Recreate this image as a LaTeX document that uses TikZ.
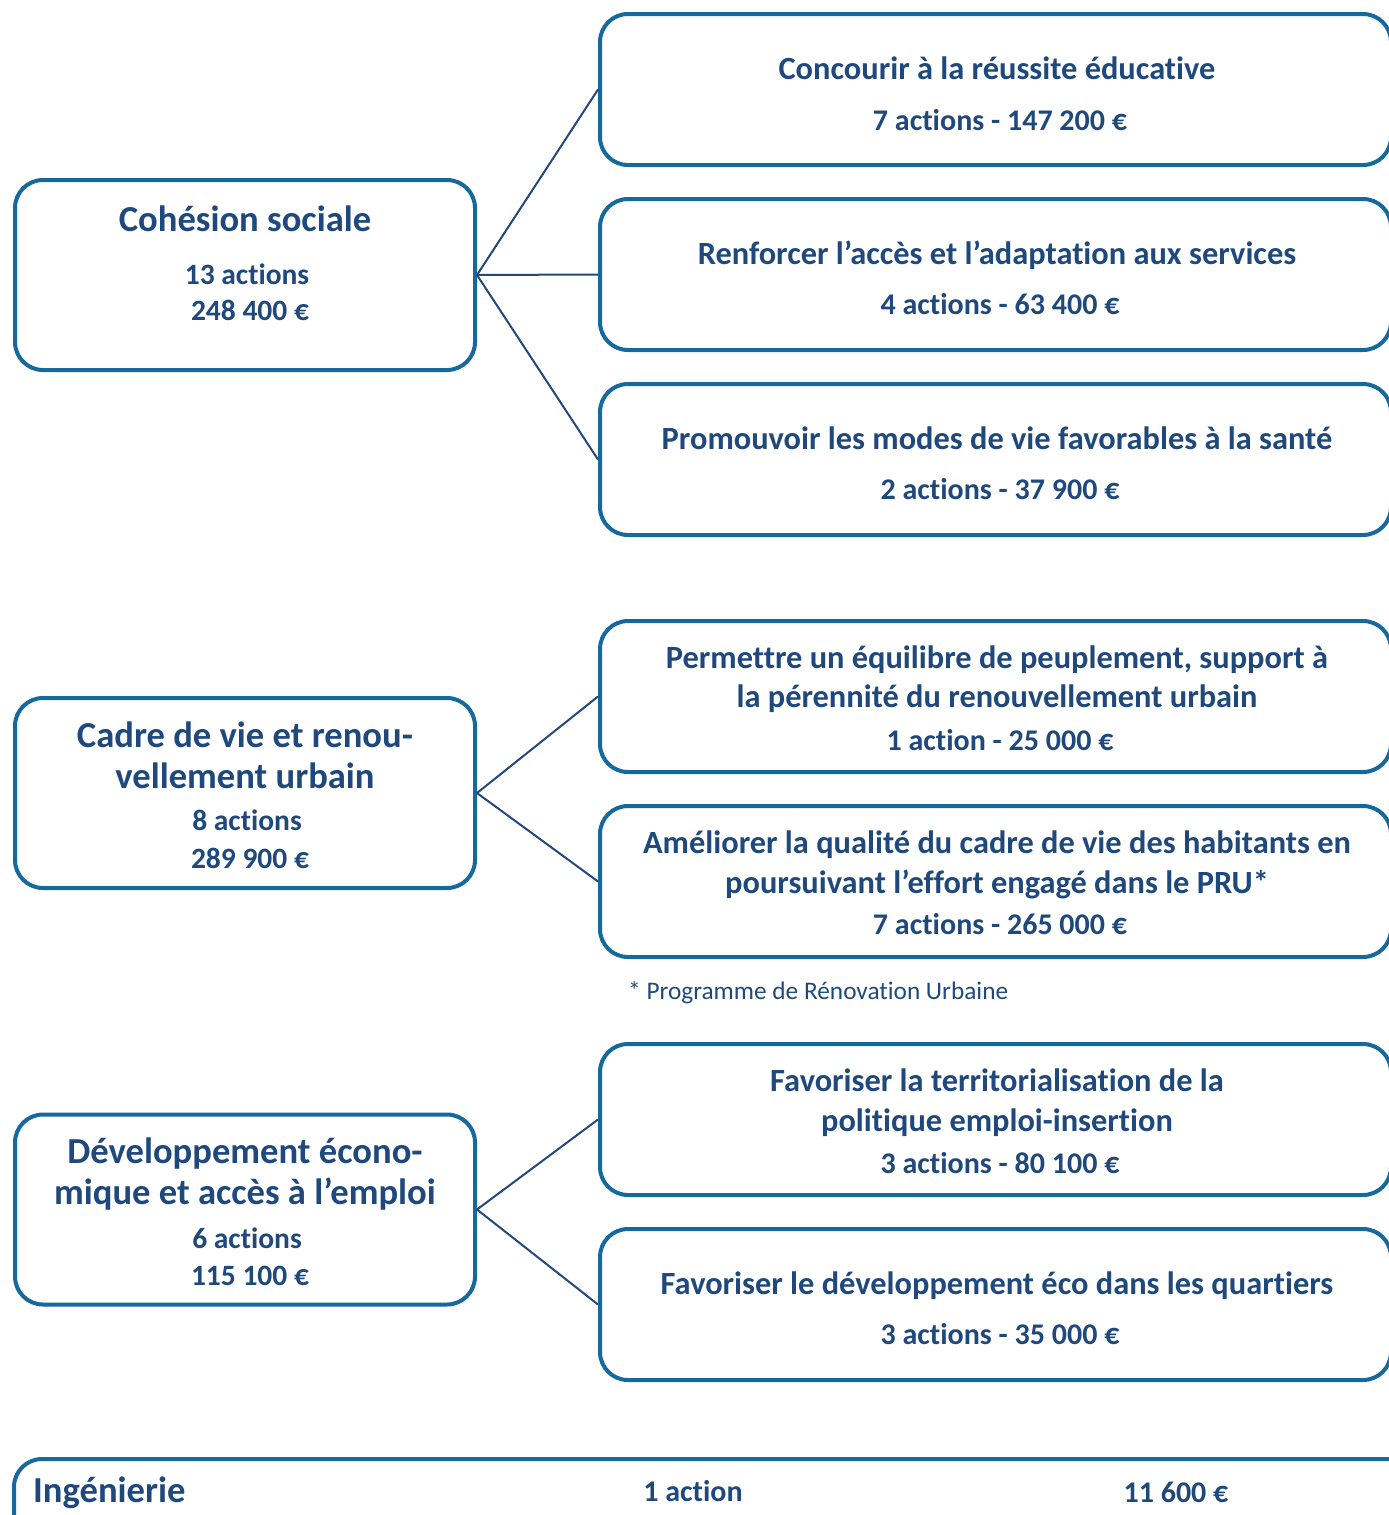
\documentclass[tikz,border=0pt]{standalone}
\usepackage{fontspec}
\setmainfont[Ligatures={NoCommon}]{Carlito}
\definecolor{bord}{HTML}{16699C}
\definecolor{txt}{HTML}{1F497D}
\definecolor{conn}{HTML}{24477E}
\tikzset{
  box/.style={draw=bord, line width=4pt, rounded corners=28pt, fill=white, inner sep=0pt},
  lbox/.style={box, minimum width=460pt, minimum height=190pt},
  rbox/.style={box, minimum width=791pt, minimum height=151pt},
  conline/.style={draw=conn, line width=2pt},
  tx/.style={text=txt, align=center, inner sep=0pt, text height=0.78em, text depth=0.04em, yshift=-8pt},
  ttl/.style={tx, font=\fontsize{32.4}{40}\selectfont\bfseries},
  amt/.style={tx, font=\fontsize{30}{36}\selectfont\bfseries},
  ltitle/.style={tx, font=\fontsize{36.6}{41}\selectfont\bfseries},
  lamt/.style={tx, font=\fontsize{29.5}{37}\selectfont\bfseries},
  note/.style={tx, font=\fontsize{25.3}{30}\selectfont},
}
\begin{document}
\begin{tikzpicture}[x=1pt,y=-1pt]
\useasboundingbox (0,0) rectangle (1389,1515);
% left boxes
\node[lbox] (L1) at (245,275) {};
\node[lbox] (L2) at (245,793) {};
\node[lbox] (L3) at (245,1209.5) {};
% right boxes
\node[rbox] (R1) at (995.5,89.5) {};
\node[rbox] (R2) at (995.5,274.5) {};
\node[rbox] (R3) at (995.5,459.5) {};
\node[rbox] (R4) at (995.5,696.5) {};
\node[rbox] (R5) at (995.5,881.5) {};
\node[rbox] (R6) at (995.5,1119.5) {};
\node[rbox] (R7) at (995.5,1304.5) {};
% bottom box
\node[box, minimum width=1420pt, minimum height=120pt, anchor=north west] (B) at (12,1457) {};
% connectors
\draw[conline] (L1.east) -- (R1.west);
\draw[conline] (L1.east) -- (R2.west);
\draw[conline] (L1.east) -- (R3.west);
\draw[conline] (L2.east) -- (R4.west);
\draw[conline] (L2.east) -- (R5.west);
\draw[conline] (L3.east) -- (R6.west);
\draw[conline] (L3.east) -- (R7.west);
% left texts
\node[ltitle] (L1a) at (245,220) {Cohésion sociale};
\node[lamt] (L1b) at (247,273) {13 actions};
\node[lamt] (L1c) at (250,309) {248 400 €};
\node[ltitle] (L2a) at (245,736) {Cadre de vie et renou-};
\node[ltitle] (L2b) at (245,777) {vellement urbain};
\node[lamt] (L2c) at (247,819) {8 actions};
\node[lamt] (L2d) at (250,857) {289 900 €};
\node[ltitle] (L3a) at (245,1152) {Développement écono-};
\node[ltitle] (L3b) at (245,1193) {mique et accès à l’emploi};
\node[lamt] (L3c) at (247,1237) {6 actions};
\node[lamt] (L3d) at (250,1274) {115 100 €};
% right texts
\node[ttl] (R1a) at (997,68) {Concourir à la réussite éducative};
\node[amt] (R1b) at (1000,119) {7 actions - 147 200 €};
\node[ttl] (R2a) at (997,253) {Renforcer l’accès et l’adaptation aux services};
\node[amt] (R2b) at (1000,303) {4 actions - 63 400 €};
\node[ttl] (R3a) at (997,438) {Promouvoir les modes de vie favorables à la santé};
\node[amt] (R3b) at (1000,488) {2 actions - 37 900 €};
\node[ttl] (R4a) at (997,657) {Permettre un équilibre de peuplement, support à};
\node[ttl] (R4b) at (997,696) {la pérennité du renouvellement urbain};
\node[amt] (R4c) at (1000,739) {1 action - 25 000 €};
\node[ttl] (R5a) at (997,842) {Améliorer la qualité du cadre de vie des habitants en};
\node[ttl] (R5b) at (997,882) {poursuivant l’effort engagé dans le PRU*};
\node[amt] (R5c) at (1000,923) {7 actions - 265 000 €};
\node[ttl] (R6a) at (997,1080) {Favoriser la territorialisation de la};
\node[ttl] (R6b) at (997,1120) {politique emploi-insertion};
\node[amt] (R6c) at (1000,1162) {3 actions - 80 100 €};
\node[ttl] (R7a) at (997,1283) {Favoriser le développement éco dans les quartiers};
\node[amt] (R7b) at (1000,1333) {3 actions - 35 000 €};
% footnote
\node[note, anchor=west, yshift=2pt] (fn) at (628,990) {* Programme de Rénovation Urbaine};
% bottom texts
\node[ltitle, anchor=west] (Ba) at (33,1491) {Ingénierie};
\node[amt] (Bb) at (693,1490) {1 action};
\node[amt] (Bc) at (1176,1491) {11 600 €};
\end{tikzpicture}
\end{document}
